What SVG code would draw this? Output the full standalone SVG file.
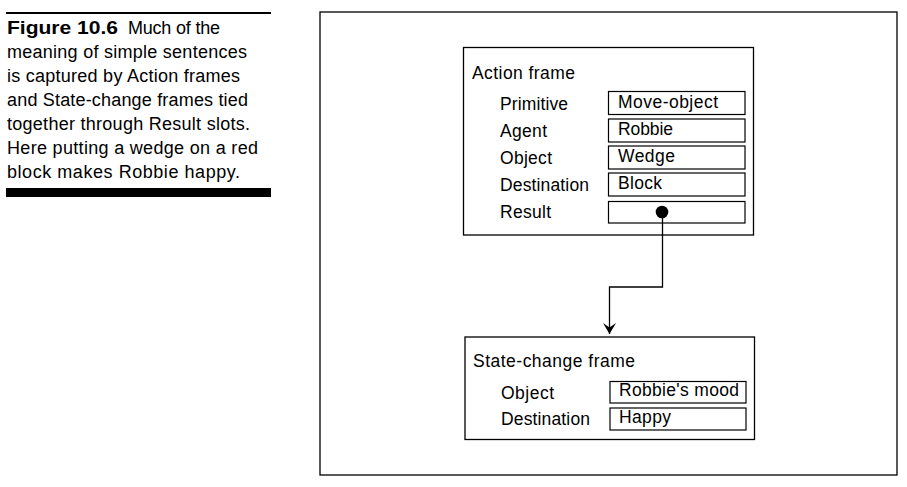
<svg xmlns="http://www.w3.org/2000/svg" width="907" height="487" viewBox="0 0 907 487">
<style>
text{font-family:"Liberation Sans",Arial,Helvetica,sans-serif;font-size:17.5px;fill:#000}
.cap{font-size:18px}
.b{font-weight:bold}
.box{fill:none;stroke:#000;stroke-width:1.3}
.slot{fill:none;stroke:#000;stroke-width:1.2}
.con{fill:none;stroke:#000;stroke-width:1.3}
</style>
<defs>
<marker id="arr" viewBox="0 0 12 14" refX="11.5" refY="7" markerWidth="12" markerHeight="14" markerUnits="userSpaceOnUse" orient="auto">
<path d="M0.5,0.5 L11.5,7 L0.5,13.5 L5,7 Z" fill="#000"/>
</marker>
</defs>
<rect width="907" height="487" fill="#fff"/>
<g id="caption">
<line x1="6" y1="13" x2="271" y2="13" stroke="#000" stroke-width="2"/>
<text x="7" y="34" class="cap b" textLength="111" lengthAdjust="spacingAndGlyphs">Figure 10.6</text>
<text x="128" y="34" class="cap" textLength="92" lengthAdjust="spacing">Much of the</text>
<text x="7" y="58" class="cap" textLength="240" lengthAdjust="spacing">meaning of simple sentences</text>
<text x="7" y="82" class="cap" textLength="233" lengthAdjust="spacing">is captured by Action frames</text>
<text x="7" y="106" class="cap" textLength="241" lengthAdjust="spacing">and State-change frames tied</text>
<text x="7" y="130" class="cap" textLength="243" lengthAdjust="spacing">together through Result slots.</text>
<text x="7" y="154" class="cap" textLength="251" lengthAdjust="spacing">Here putting a wedge on a red</text>
<text x="7" y="178" class="cap" textLength="233" lengthAdjust="spacing">block makes Robbie happy.</text>
<rect x="6" y="188" width="265" height="9" fill="#000"/>
</g>
<g id="outer">
<rect x="320" y="12" width="577" height="463" class="box"/>
</g>
<g id="action-frame">
<rect x="463.5" y="47.5" width="290" height="187.5" class="box"/>
<text x="472" y="79" textLength="103" lengthAdjust="spacing">Action frame</text>
<text x="500" y="110" textLength="68" lengthAdjust="spacing">Primitive</text>
<text x="500" y="137" textLength="47" lengthAdjust="spacing">Agent</text>
<text x="500" y="164" textLength="52" lengthAdjust="spacing">Object</text>
<text x="500" y="191" textLength="89" lengthAdjust="spacing">Destination</text>
<text x="500" y="218" textLength="51" lengthAdjust="spacing">Result</text>
<rect x="608.5" y="91.5" width="136.5" height="23" class="slot"/>
<rect x="608.5" y="119" width="136.5" height="23" class="slot"/>
<rect x="608.5" y="146" width="136.5" height="23" class="slot"/>
<rect x="608.5" y="173" width="136.5" height="23" class="slot"/>
<rect x="608.5" y="201.5" width="136.5" height="21.5" class="slot"/>
<text x="618" y="108" textLength="100" lengthAdjust="spacing">Move-object</text>
<text x="618" y="135" textLength="55" lengthAdjust="spacing">Robbie</text>
<text x="618" y="162" textLength="57" lengthAdjust="spacing">Wedge</text>
<text x="618" y="189" textLength="44" lengthAdjust="spacing">Block</text>
<circle cx="662" cy="212" r="6.3" fill="#000"/>
</g>
<g id="state-change-frame">
<rect x="465" y="337" width="289.5" height="102.5" class="box"/>
<text x="473" y="367" textLength="162" lengthAdjust="spacing">State-change frame</text>
<text x="501" y="399" textLength="53" lengthAdjust="spacing">Object</text>
<text x="501" y="425" textLength="89" lengthAdjust="spacing">Destination</text>
<rect x="610" y="381.5" width="136" height="21.5" class="slot"/>
<rect x="610" y="408" width="136" height="22" class="slot"/>
<text x="619" y="396" textLength="120" lengthAdjust="spacing">Robbie's mood</text>
<text x="619" y="423" textLength="52" lengthAdjust="spacing">Happy</text>
</g>
<g id="connectors">
<path d="M662.5,212 V287 H609.5 V334" class="con" marker-end="url(#arr)"/>
</g>
</svg>
